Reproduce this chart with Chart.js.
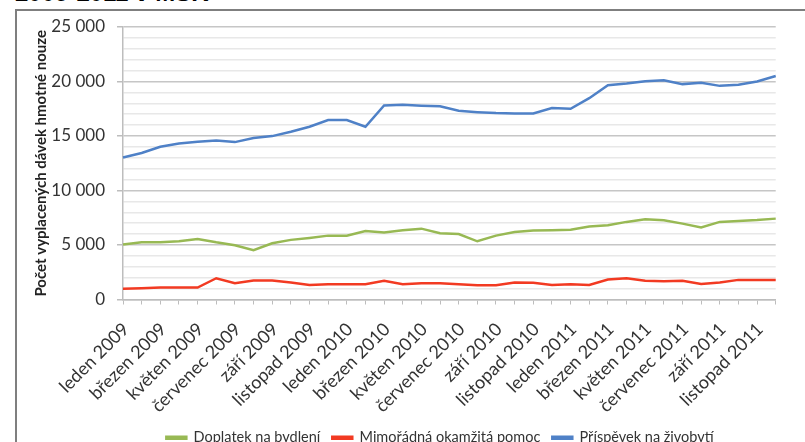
<!DOCTYPE html>
<html>
<head>
<meta charset="utf-8">
<script src="https://cdn.jsdelivr.net/npm/chart.js@4.4.1/dist/chart.umd.min.js"></script>
<style>
  body { margin: 0; background: #fff; overflow: hidden; }
  #nadpis { position: absolute; left: 15px; top: -19px; font: bold 24px "Liberation Sans", Arial, sans-serif; line-height: 24px; color: #000; white-space: nowrap; }
  #ramecek { position: absolute; left: 15px; top: 9px; width: 800px; height: 460px; border-left: 2px solid #7f7f7f; border-top: 2px solid #7f7f7f; }
  #obal { position: absolute; left: 0; top: 0; width: 805px; height: 455px; }
</style>
</head>
<body>
<div id="nadpis">2009-2011 v MSK</div>
<div id="ramecek"></div>
<div id="obal"><canvas id="graf"></canvas></div>
<script>
let mesice = ['leden', 'únor', 'březen', 'duben', 'květen', 'červen', 'červenec', 'srpen', 'září', 'říjen', 'listopad', 'prosinec'];
let roky = [2009, 2010, 2011];

let doplatekNaBydleni = [5040, 5250, 5250, 5340, 5560, 5250, 4980, 4520, 5160, 5470, 5650, 5860,
    5860, 6290, 6140, 6350, 6500, 6070, 6010, 5340, 5860, 6200, 6320, 6350,
    6410, 6690, 6810, 7120, 7360, 7260, 6960, 6600, 7120, 7200, 7290, 7420];
let mimoradnaPomoc = [980, 1040, 1100, 1100, 1100, 1950, 1500, 1740, 1740, 1560, 1340, 1400,
    1400, 1400, 1710, 1400, 1500, 1500, 1400, 1310, 1310, 1560, 1530, 1340,
    1400, 1340, 1830, 1950, 1710, 1680, 1710, 1430, 1560, 1800, 1800, 1780];
let prispevekNaZivobyti = [13030, 13440, 14010, 14320, 14470, 14590, 14440, 14810, 14990, 15390, 15850, 16460,
    16460, 15850, 17800, 17860, 17780, 17720, 17310, 17190, 17100, 17070, 17070, 17560,
    17500, 18470, 19660, 19810, 20030, 20120, 19760, 19880, 19600, 19700, 20000, 20500];

let popisky = [];
for (let r = 0; r < roky.length; r++) {
    for (let m = 0; m < mesice.length; m++) {
        popisky.push(mesice[m] + ' ' + roky[r]);
    }
}

function tisice(v) {
    return String(v).replace(/\B(?=(\d{3})+(?!\d))/g, ' ');
}

// legenda je v originale posunuta doprava (na stred ramecku)
const posunLegendy = {
    id: 'posunLegendy',
    afterLayout: function (chart) {
        chart.legend.left += 56;
    }
};

const pismo = '"Lato", "Open Sans", sans-serif';
const ctx = document.getElementById('graf');
new Chart(ctx, {
    type: 'line',
    data: {
        labels: popisky,
        datasets: [{
            label: 'Doplatek na bydlení',
            data: doplatekNaBydleni,
            borderColor: '#98b954',
            backgroundColor: '#98b954'
        }, {
            label: 'Mimořádná okamžitá pomoc',
            data: mimoradnaPomoc,
            borderColor: '#f23a22',
            backgroundColor: '#f23a22'
        }, {
            label: 'Příspěvek na živobytí',
            data: prispevekNaZivobyti,
            borderColor: '#4f81c7',
            backgroundColor: '#4f81c7'
        }]
    },
    options: {
        responsive: true,
        maintainAspectRatio: false,
        animation: false,
        elements: {
            line: { borderWidth: 2.5, tension: 0 },
            point: { radius: 0 }
        },
        layout: { padding: { left: 32, right: 13, top: 27, bottom: 0 } },
        plugins: {
            tooltip: { enabled: false },
            legend: {
                position: 'bottom',
                labels: {
                    boxWidth: 20,
                    boxHeight: 2,
                    padding: 12,
                    color: '#333',
                    font: { family: pismo, size: 14.5 }
                }
            }
        },
        scales: {
            x: {
                offset: false,
                grid: { drawOnChartArea: false, drawTicks: true, tickLength: 5, color: '#bdbdbd' },
                border: { color: '#bdbdbd', width: 1.5 },
                ticks: {
                    autoSkip: false,
                    maxRotation: 45,
                    minRotation: 45,
                    padding: 14,
                    labelOffset: 3,
                    color: '#333',
                    font: { family: pismo, size: 18 },
                    callback: function (v, i) { return i % 2 == 0 ? this.getLabelForValue(v) : ''; }
                },
                afterFit: function (s) { s.height = 119; }
            },
            y: {
                min: 0,
                max: 25000,
                grid: {
                    color: function (c) { return c.tick.value % 5000 == 0 ? '#c6c6c6' : '#e8e8e8'; },
                    tickColor: function (c) { return c.tick.value % 5000 == 0 ? '#bdbdbd' : 'rgba(0,0,0,0)'; },
                    lineWidth: 1.5,
                    tickLength: 6
                },
                border: { color: '#bdbdbd', width: 1.5 },
                ticks: {
                    stepSize: 1000,
                    autoSkip: false,
                    padding: 12,
                    color: '#333',
                    font: { family: pismo, size: 17 },
                    callback: function (v) { return v % 5000 == 0 ? tisice(v) : ''; }
                },
                title: {
                    display: true,
                    text: 'Počet vyplacených dávek hmotné nouze',
                    color: '#222',
                    padding: 0,
                    font: { family: pismo, size: 15, weight: 'bold' }
                },
                afterFit: function (s) { s.width = 91; }
            }
        }
    },
    plugins: [posunLegendy]
});
</script>
</body>
</html>
